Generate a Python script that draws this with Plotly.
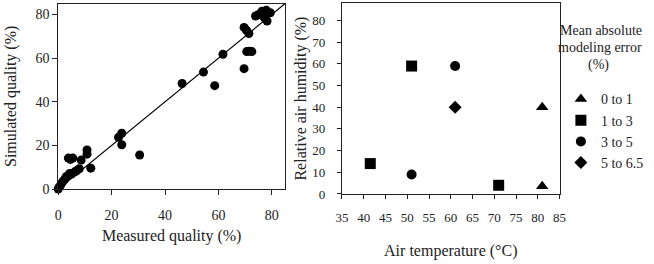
import plotly.graph_objects as go

# ---- Left panel: measured vs simulated quality (%) ----
measured = [0, 0.3, 0.8, 1.2, 1.8, 2.5, 3.1, 3.8, 4.3, 5.0, 6.1, 7.0, 7.9,
            3.8, 4.6, 5.5, 8.6, 10.8, 10.8, 12.2,
            22.6, 23.8, 23.8, 30.5,
            46.4, 54.4, 58.6, 61.7, 69.6, 69.6, 70.5, 71.4, 70.6, 71.6, 72.5,
            73.9, 75.1, 76.3, 77.9, 79.4, 77.2, 78.2, 76.5]
simulated = [0, 0.8, 1.6, 2.5, 3.6, 4.6, 5.8, 6.2, 7.2, 6.9, 7.8, 8.5, 9.3,
             14.2, 13.6, 14.2, 13.3, 17.9, 16.0, 9.6,
             23.7, 25.6, 20.3, 15.6,
             48.4, 53.6, 47.4, 61.8, 55.2, 74.1, 72.8, 71.3, 63.0, 63.2, 63.0,
             79.3, 80.0, 81.5, 82.0, 80.8, 78.5, 77.0, 79.6]
ref_line = [0, 85]
left_ticks = [0, 20, 40, 60, 80]

# ---- Right panel: air temperature vs relative humidity by error class ----
classes = ["0 to 1", "1 to 3", "3 to 5", "5 to 6.5"]
temp = {"0 to 1": [81, 81], "1 to 3": [41.5, 51, 71], "3 to 5": [51, 61], "5 to 6.5": [61]}
humid = {"0 to 1": [40, 3.5], "1 to 3": [14, 59, 4], "3 to 5": [9, 59], "5 to 6.5": [40]}
symbols = {"0 to 1": "triangle-up", "1 to 3": "square", "3 to 5": "circle", "5 to 6.5": "diamond"}
sizes = {"0 to 1": 11, "1 to 3": 11, "3 to 5": 10, "5 to 6.5": 10}
temp_ticks = [35, 40, 45, 50, 55, 60, 65, 70, 75, 80, 85]
humid_ticks = [0, 10, 20, 30, 40, 50, 60, 70, 80]
legend_title = ["Mean absolute", "modeling error", "(%)"]

FONT = "Liberation Serif"
W, H = 654, 264

fig = go.Figure()
fig.add_trace(go.Scatter(x=ref_line, y=ref_line, mode="lines",
                         line=dict(color="black", width=1.2),
                         showlegend=False, xaxis="x", yaxis="y", hoverinfo="skip"))
fig.add_trace(go.Scatter(x=measured, y=simulated, mode="markers",
                         marker=dict(color="black", size=9, symbol="circle"),
                         cliponaxis=False, showlegend=False, xaxis="x", yaxis="y"))
for c in classes:
    fig.add_trace(go.Scatter(x=temp[c], y=humid[c], mode="markers", name=c,
                             legendgroup=c,
                             marker=dict(color="black", size=sizes[c], symbol=symbols[c]),
                             cliponaxis=False, xaxis="x2", yaxis="y2"))


def axis(ticks, visible_len, label_gap, size):
    # major ticks are transparent and only space the labels; the visible ticks are minor ticks
    return dict(showline=True, mirror=True, linecolor="#222", linewidth=1,
                tickvals=ticks, ticks="outside", ticklen=visible_len + label_gap,
                tickcolor="rgba(0,0,0,0)",
                minor=dict(tickvals=ticks, ticks="outside", ticklen=visible_len,
                           tickcolor="#222", tickwidth=1, showgrid=False),
                showgrid=False, zeroline=False,
                tickfont=dict(family=FONT, size=size, color="#222"))


annotations = [
    dict(text=legend_title[0], x=651 / W, y=(H - 31) / H, xanchor="right"),
    dict(text=legend_title[1], x=651 / W, y=(H - 49) / H, xanchor="right"),
    dict(text=legend_title[2], x=604 / W, y=(H - 67) / H, xanchor="center"),
]
for a in annotations:
    a.update(xref="paper", yref="paper", yanchor="middle", showarrow=False,
             font=dict(family=FONT, size=14, color="#222"))

fig.update_layout(
    width=W, height=H, margin=dict(l=0, r=0, t=0, b=0),
    paper_bgcolor="white", plot_bgcolor="white",
    font=dict(family=FONT, color="#222"),
    xaxis=dict(domain=[52.3 / W, 284.3 / W], range=[0, 85],
               title=dict(text="Measured quality (%)", font=dict(family=FONT, size=16), standoff=7),
               **axis(left_ticks, 5, 8, 14)),
    yaxis=dict(domain=[(H - 195) / H, (H - 3.7) / H], range=[0, 85],
               title=dict(text="Simulated quality (%)", font=dict(family=FONT, size=16), standoff=14),
               **axis(left_ticks, 5, 0, 14)),
    xaxis2=dict(domain=[342.3 / W, 564.7 / W], range=[35, 85],
                title=dict(text="Air temperature (°C)", font=dict(family=FONT, size=16), standoff=21),
                anchor="y2", **axis(temp_ticks, 4, 7, 13)),
    yaxis2=dict(domain=[(H - 200) / H, (H - 3.3) / H], range=[0, 88],
                title=dict(text="Relative air humidity (%)", font=dict(family=FONT, size=16), standoff=1),
                anchor="x2", **axis(humid_ticks, 4, 9, 13)),
    showlegend=True,
    legend=dict(x=566 / W, xanchor="left", y=(H - 86) / H, yanchor="top",
                font=dict(family=FONT, size=14, color="#222"),
                bgcolor="rgba(0,0,0,0)", borderwidth=0, tracegroupgap=12,
                traceorder="normal"),
    annotations=annotations,
)

fig.write_html("out.html")
